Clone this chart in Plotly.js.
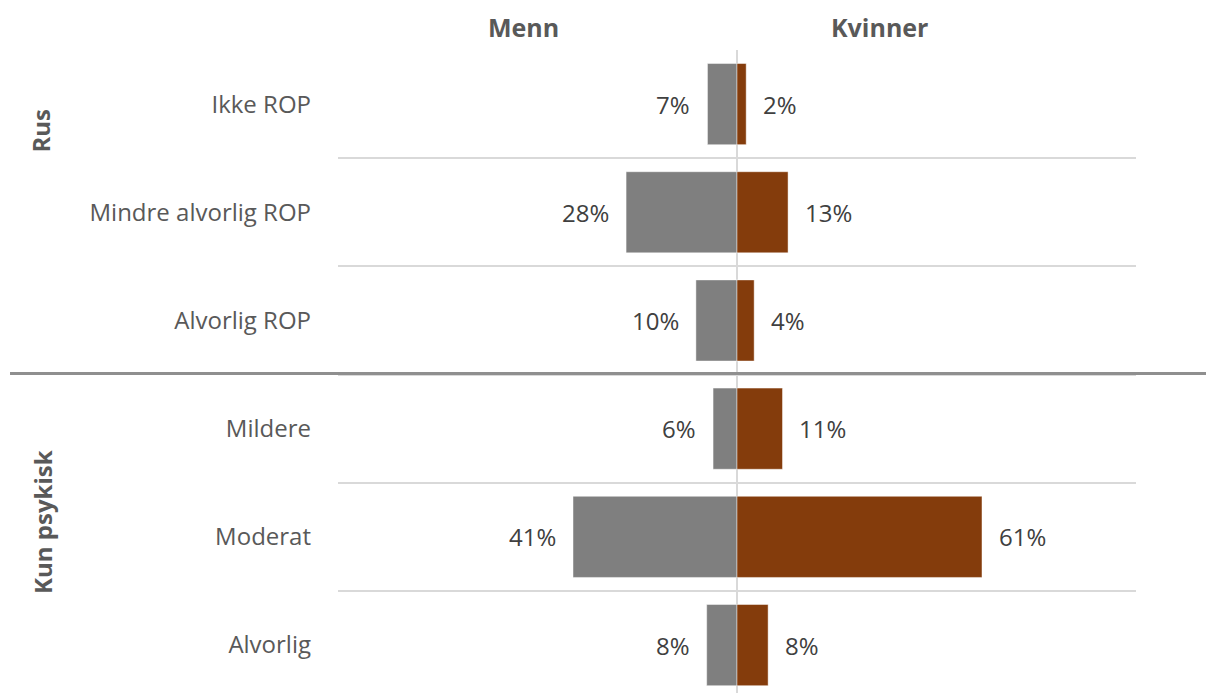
<!DOCTYPE html>
<html>
<head>
<meta charset="utf-8">
<script src="https://cdn.plot.ly/plotly-3.0.1.min.js"></script>
<style>html,body{margin:0;padding:0;background:#fff;}#chart{width:1206px;height:693px;}</style>
</head>
<body>
<div id="chart"></div>
<script>
const categories = ["Ikke ROP", "Mindre alvorlig ROP", "Alvorlig ROP", "Mildere", "Moderat", "Alvorlig"];
const groups = ["Rus", "Kun psykisk"];
const menn = [7.4, 27.8, 10.3, 6.0, 41.1, 7.6];
const kvinner = [2.3, 12.8, 4.3, 11.4, 61.4, 7.8];
const seriesNames = ["Menn", "Kvinner"];

const FONT = "Open Sans, Noto Sans, sans-serif";
const TXT = "#595959";
const VAL = "#404040";
const pct = v => Math.round(v) + "%";

const traces = [
  {
    type: "bar", orientation: "h", name: seriesNames[0],
    y: categories, x: menn.map(v => -v),
    marker: {color: "#7f7f7f", line: {color: "rgba(255,255,255,0.45)", width: 1}},
    width: 0.75, hoverinfo: "skip"
  },
  {
    type: "bar", orientation: "h", name: seriesNames[1],
    y: categories, x: kvinner,
    marker: {color: "#843c0c", line: {color: "rgba(255,255,255,0.45)", width: 1}},
    width: 0.75, hoverinfo: "skip"
  }
];

const annotations = [];
categories.forEach((c, i) => {
  annotations.push({x: -menn[i], y: c, xref: "x", yref: "y", text: pct(menn[i]),
    xanchor: "right", yanchor: "middle", xshift: -15, showarrow: false,
    font: {family: FONT, size: 24, color: VAL}});
  annotations.push({x: kvinner[i], y: c, xref: "x", yref: "y", text: pct(kvinner[i]),
    xanchor: "left", yanchor: "middle", xshift: 15, showarrow: false,
    font: {family: FONT, size: 24, color: VAL}});
});
// series headers
annotations.push({x: 0.232, y: 1.036, xref: "paper", yref: "paper", text: "<b>" + seriesNames[0] + "</b>",
  showarrow: false, xanchor: "center", yanchor: "middle", font: {family: FONT, size: 25, color: TXT}});
annotations.push({x: 0.679, y: 1.036, xref: "paper", yref: "paper", text: "<b>" + seriesNames[1] + "</b>",
  showarrow: false, xanchor: "center", yanchor: "middle", font: {family: FONT, size: 25, color: TXT}});
// group labels
annotations.push({x: -0.374, y: 1 - (131 - 50) / 643, xref: "paper", yref: "paper", text: "<b>" + groups[0] + "</b>",
  textangle: -90, showarrow: false, xanchor: "center", yanchor: "middle", font: {family: FONT, size: 24, color: TXT}});
annotations.push({x: -0.371, y: 1 - (522 - 50) / 643, xref: "paper", yref: "paper", text: "<b>" + groups[1] + "</b>",
  textangle: -90, showarrow: false, xanchor: "center", yanchor: "middle", font: {family: FONT, size: 24, color: TXT}});

const layout = {
  width: 1206, height: 693,
  margin: {l: 338, r: 70, t: 50, b: 0, pad: 0},
  paper_bgcolor: "#fff", plot_bgcolor: "#fff",
  barmode: "overlay",
  showlegend: false,
  font: {family: FONT, color: TXT},
  xaxis: {range: [-100, 100], showgrid: false, showticklabels: false, ticks: "",
    zeroline: true, zerolinecolor: "#d9d9d9", zerolinewidth: 2, fixedrange: true},
  yaxis: {type: "category", range: [5.443, -0.5], tickson: "boundaries", showgrid: true,
    gridcolor: "#d9d9d9", gridwidth: 2, ticks: "", zeroline: false, showline: false,
    ticklabelstandoff: 26,
    tickfont: {family: FONT, size: 24, color: TXT}, fixedrange: true},
  shapes: [{type: "line", xref: "paper", yref: "y", x0: -0.411, x1: 1.09, y0: 2.49, y1: 2.49,
    line: {color: "#8f8f8f", width: 3}}],
  annotations: annotations
};

Plotly.newPlot("chart", traces, layout, {displayModeBar: false, staticPlot: true});
</script>
</body>
</html>
